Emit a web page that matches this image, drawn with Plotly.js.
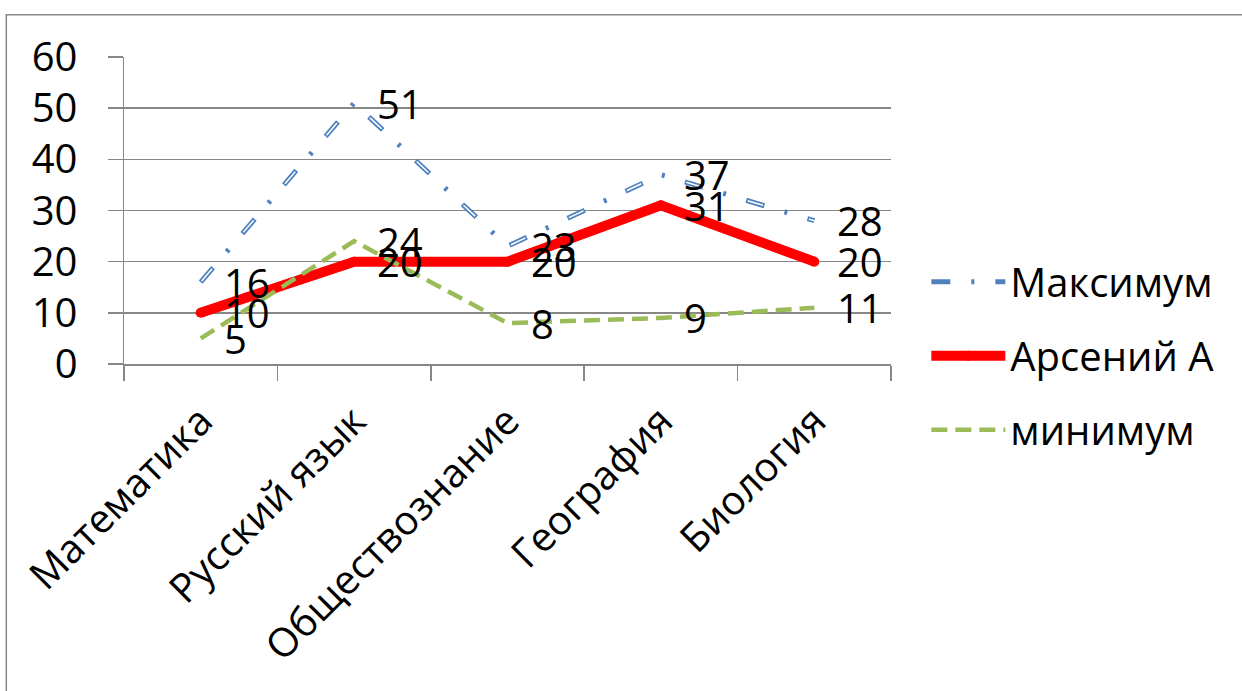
<!DOCTYPE html>
<html><head><meta charset="utf-8">
<script src="https://cdn.plot.ly/plotly-3.0.1.min.js"></script>
<style>html,body{margin:0;padding:0;background:#fff;overflow:hidden}#chart{width:1242px;height:691px}</style>
</head><body><div id="chart"></div>
<script>
const categories = ['Математика', 'Русский язык', 'Обществознание', 'География', 'Биология'];
const maxValues = [16, 51, 23, 37, 28];
const arsenyValues = [10, 20, 20, 31, 20];
const minValues = [5, 24, 8, 9, 11];
const seriesNames = ['Максимум', 'Арсений А', 'минимум'];
const yTickValues = [0, 10, 20, 30, 40, 50, 60];

const FONT = '"Open Sans", "Noto Sans", sans-serif';
const GRID = '#878787';
const W = 1242, H = 691;
const L = 124.3, R = 890.7, T = 56.7, B = 364.3;
const pw = R - L, ph = B - T;

const traces = [
  {x: categories, y: maxValues, name: seriesNames[0], type: 'scatter', mode: 'lines',
   line: {color: '#4F81BD', width: 5, dash: '19px,21px,3px,21px'}, legendgroup: 'g1'},
  {x: categories, y: maxValues, type: 'scatter', mode: 'lines', showlegend: false, hoverinfo: 'skip',
   line: {color: '#ffffff', width: 1.5, dash: '0px,1.5px,16px,46.5px'}},
  {x: categories, y: arsenyValues, name: seriesNames[1], type: 'scatter', mode: 'lines+markers',
   line: {color: '#FF0000', width: 10}, marker: {color: '#FF0000', size: 10}, legendgroup: 'g2'},
  {x: categories, y: minValues, name: seriesNames[2], type: 'scatter', mode: 'lines',
   line: {color: '#9BBB59', width: 4.5, dash: '16px,8px'}, legendgroup: 'g3'}
];

const annotations = [];
[maxValues, arsenyValues, minValues].forEach(vals => {
  vals.forEach((v, i) => {
    annotations.push({x: categories[i], y: v, xref: 'x', yref: 'y', text: String(v),
      showarrow: false, xanchor: 'left', yanchor: 'middle', xshift: 21,
      font: {family: FONT, size: 40, color: '#000'}});
  });
});

const layout = {
  width: W, height: H, autosize: false,
  margin: {l: L, r: W - R, t: T, b: H - B, pad: 0},
  paper_bgcolor: '#fff', plot_bgcolor: '#fff',
  font: {family: FONT, size: 40, color: '#000'},
  showlegend: true,
  legend: {x: (926 - L) / pw, xanchor: 'left', y: (B - 356) / ph, yanchor: 'middle',
    traceorder: 'grouped', tracegroupgap: 19, itemwidth: 74,
    font: {family: FONT, size: 40, color: '#000'}, bgcolor: 'rgba(0,0,0,0)'},
  xaxis: {type: 'category', range: [-0.5, 4.5], tickson: 'boundaries', ticks: 'outside',
    ticklen: 15, tickwidth: 1.5, tickcolor: GRID, showline: true, linecolor: GRID, linewidth: 1.5,
    showgrid: false, tickangle: -45, ticklabelstandoff: 16,
    tickfont: {family: FONT, size: 40, color: '#000'}, fixedrange: true},
  yaxis: {range: [0, 60], tickvals: yTickValues, ticks: 'outside', ticklen: 15, tickwidth: 1.5,
    tickcolor: GRID, showline: true, linecolor: GRID, linewidth: 1.5, showgrid: true,
    gridcolor: GRID, gridwidth: 1.5, zeroline: false, ticklabelstandoff: 22,
    tickfont: {family: FONT, size: 40, color: '#000'}, fixedrange: true},
  annotations: annotations,
  shapes: [{type: 'rect', xref: 'paper', yref: 'paper',
    x0: (6.7 - L) / pw, x1: (W + 10 - L) / pw, y0: (B - (H + 10)) / ph, y1: (B - 14.3) / ph,
    line: {color: GRID, width: 1.5}, fillcolor: 'rgba(0,0,0,0)', layer: 'below'}]
};

Plotly.newPlot('chart', traces, layout, {displayModeBar: false, staticPlot: true});
</script></body></html>
